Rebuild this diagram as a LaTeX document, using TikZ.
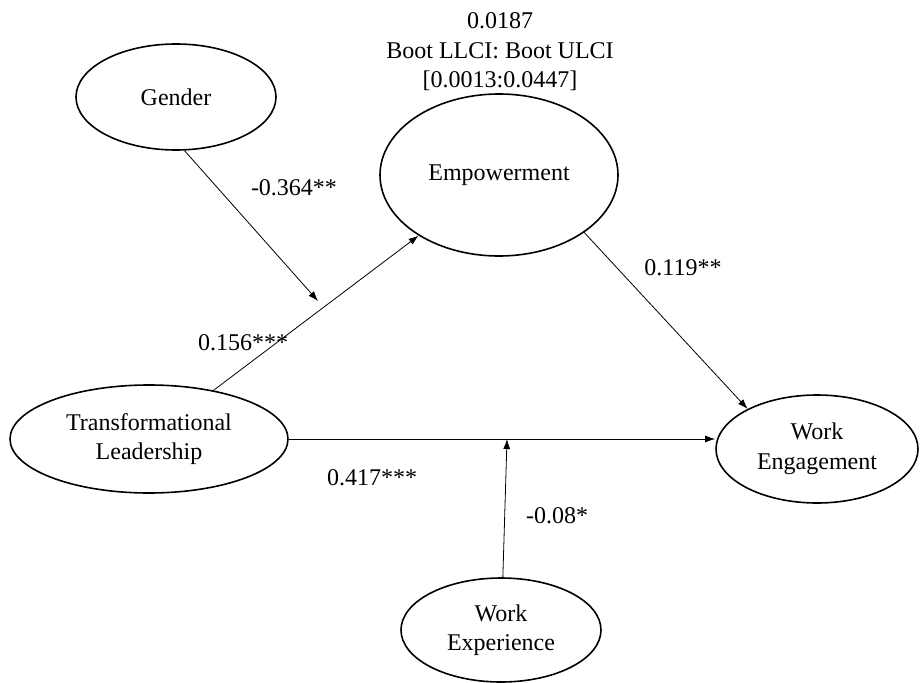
\documentclass[tikz,border=0pt]{standalone}
\usepackage{fontspec}
\setmainfont{Liberation Serif}
\usetikzlibrary{shapes.geometric,arrows.meta}
\begin{document}
\begin{tikzpicture}[x=1pt,y=-1pt,
  every node/.style={font=\fontsize{24}{29.5}\selectfont},
  var/.style={ellipse,draw,line width=1.6pt,inner sep=0pt,align=center},
  lbl/.style={inner sep=0pt,align=center},
  conn/.style={line width=0.8pt,-{Latex[length=10pt,width=7pt]}}]
\useasboundingbox (0,0) rectangle (920,682);
\node[var,minimum width=200,minimum height=106] (gender) at (176,97) {Gender};
\node[var,minimum width=238,minimum height=162] (emp) at (499,175) {Empowerment};
\node[var,minimum width=278,minimum height=108] (tl) at (149,439) {Transformational\\Leadership};
\node[var,minimum width=202,minimum height=108] (we) at (817,449) {Work\\Engagement};
\node[var,minimum width=200,minimum height=104] (wexp) at (501,630) {Work\\Experience};
\node[lbl] (top) at (500,52) {0.0187\\Boot LLCI:\ Boot ULCI\\{}[0.0013:0.0447]};
\coordinate (m1) at (318,301);
\coordinate (m2) at (507,439);
\draw[conn] (tl) -- (emp);
\draw[conn] (emp.-34) -- (we.150);
\draw[conn] (tl.east) -- (tl.east -| we.west);
\draw[conn] (gender.-81) -- (m1);
\draw[conn] (wexp.88) -- (m2);
\node[lbl] (l1) at (294,188) {-0.364**};
\node[lbl] (l2) at (243,343) {0.156***};
\node[lbl] (l3) at (683,268) {0.119**};
\node[lbl] (l4) at (372,478) {0.417***};
\node[lbl] (l5) at (557,516) {-0.08*};
\end{tikzpicture}
\end{document}
